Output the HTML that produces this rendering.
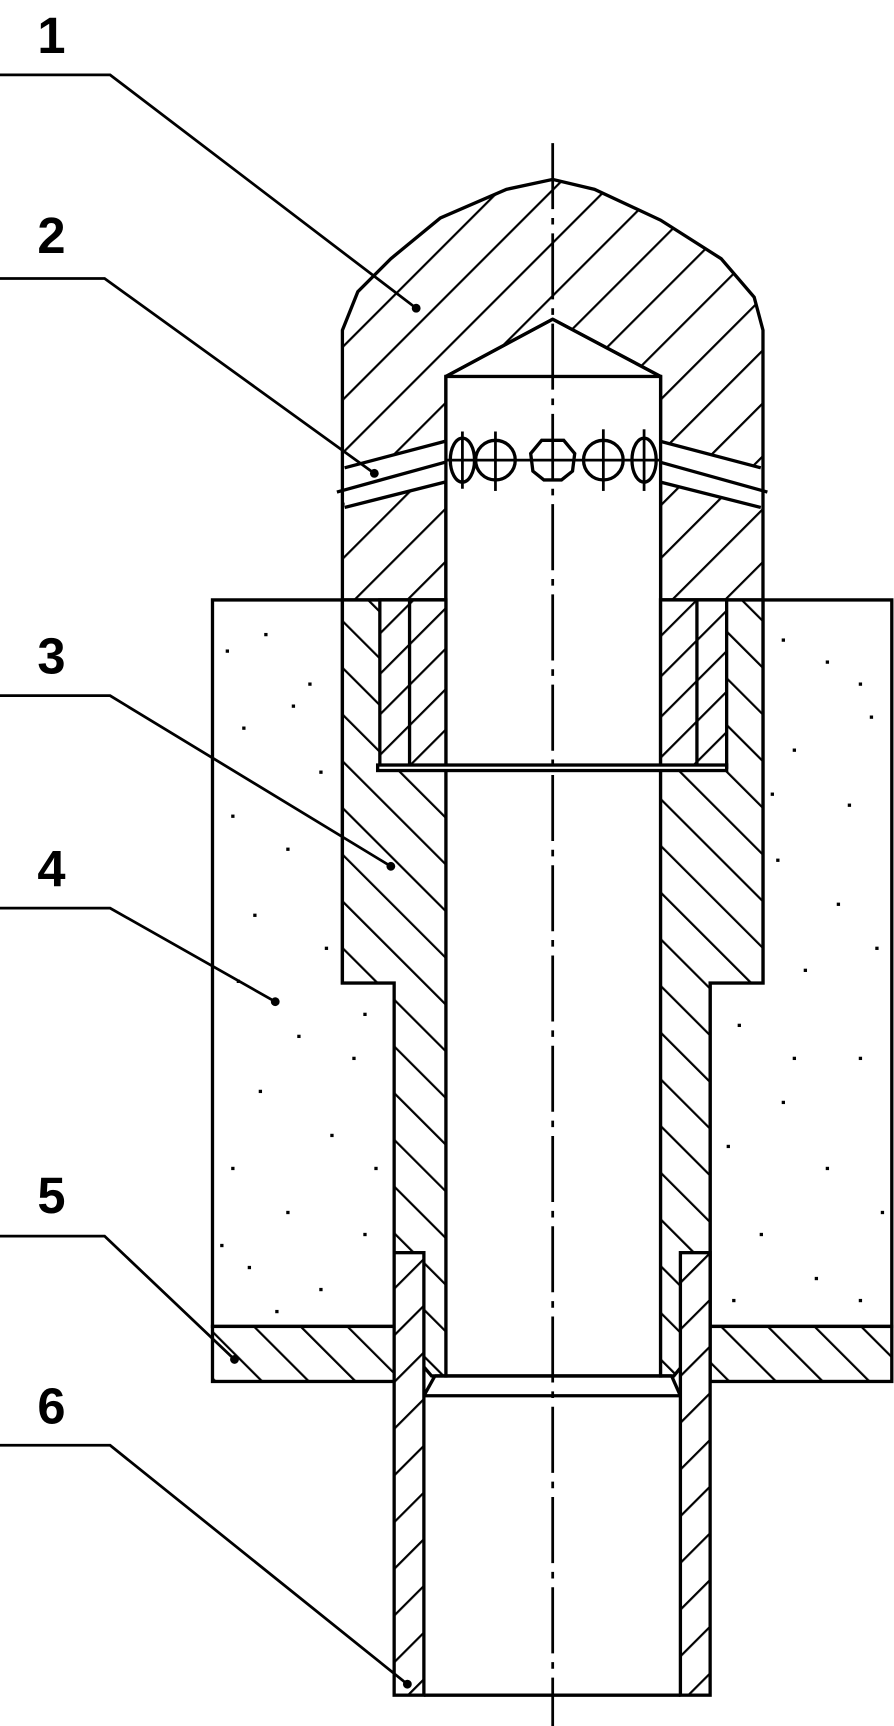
<!DOCTYPE html>
<html><head><meta charset="utf-8"><style>html,body{margin:0;padding:0;background:#fff}svg{display:block}</style></head><body>
<svg width="894" height="1726" viewBox="0 0 812 1568" preserveAspectRatio="none" xmlns="http://www.w3.org/2000/svg">
<defs>
<pattern id="hA" patternUnits="userSpaceOnUse" width="34" height="34" patternTransform="rotate(45)"><rect width="34" height="34" fill="#fff"/><line x1="0" y1="0" x2="0" y2="34" stroke="#000" stroke-width="4"/></pattern>
<pattern id="hB" patternUnits="userSpaceOnUse" width="30" height="30" patternTransform="rotate(-45)"><rect width="30" height="30" fill="#fff"/><line x1="0" y1="0" x2="0" y2="30" stroke="#000" stroke-width="4"/></pattern>
<pattern id="hD" patternUnits="userSpaceOnUse" width="26" height="26" patternTransform="rotate(45)"><rect width="26" height="26" fill="#fff"/><line x1="0" y1="0" x2="0" y2="26" stroke="#000" stroke-width="4"/></pattern>
<pattern id="hC" patternUnits="userSpaceOnUse" width="30" height="30" patternTransform="rotate(45)"><rect width="30" height="30" fill="#fff"/><line x1="0" y1="0" x2="0" y2="30" stroke="#000" stroke-width="4"/></pattern>
</defs>
<g stroke="#000" stroke-width="3" fill="none">
<!-- insulation blocks -->
<path d="M193,545 L311,545 L311,893 L358,893 L358,1205 L193,1205 Z" fill="#fff"/>
<path d="M810,545 L693,545 L693,893 L645,893 L645,1205 L810,1205 Z" fill="#fff"/>
<!-- part 1 cap -->
<path d="M311,545 L311,300 L325,265 L355,235 L400,198 L460,172 L502,163 L540,172 L600,200 L655,235 L685,270 L693,300 L693,545 L600,545 L600,342 L502,290 L405,342 L405,545 Z" fill="url(#hA)"/>
<!-- channels -->
<polygon points="313,425 404,401 404,438 313,461" fill="#fff" stroke="none"/>
<polygon points="600,401 691,425 691,461 600,438" fill="#fff" stroke="none"/>
<line x1="313" y1="425" x2="404" y2="401"/><line x1="306" y1="447" x2="404" y2="420"/><line x1="313" y1="461" x2="404" y2="438"/>
<line x1="600" y1="401" x2="691" y2="425"/><line x1="600" y1="420" x2="697" y2="447"/><line x1="600" y1="438" x2="691" y2="461"/>
<!-- bore -->
<rect x="405" y="342" width="195" height="908" fill="#fff"/>
<line x1="405" y1="342" x2="502" y2="290"/><line x1="600" y1="342" x2="502" y2="290"/>
<!-- part 3 sleeve -->
<path d="M311,545 L405,545 L405,1250 L392,1250 L358,1210 L358,893 L311,893 Z" fill="url(#hB)"/>
<path d="M693,545 L600,545 L600,1250 L612,1250 L645,1210 L645,893 L693,893 Z" fill="url(#hB)"/>
<!-- inserts -->
<rect x="345" y="545" width="60" height="152" fill="url(#hD)"/>
<rect x="600" y="545" width="60" height="152" fill="url(#hD)"/>
<line x1="372" y1="545" x2="372" y2="697"/><line x1="633" y1="545" x2="633" y2="697"/>
<rect x="343" y="695" width="317" height="5" fill="#fff"/>
<line x1="395" y1="1250" x2="610" y2="1250"/><line x1="385" y1="1268" x2="618" y2="1268"/>
<line x1="395" y1="1250" x2="385" y2="1268"/><line x1="610" y1="1250" x2="618" y2="1268"/>
<!-- plate 5 -->
<rect x="193" y="1205" width="165" height="50" fill="url(#hB)"/>
<rect x="645" y="1205" width="165" height="50" fill="url(#hB)"/>
<!-- tube 6 -->
<rect x="358" y="1138" width="27" height="402" fill="url(#hC)"/>
<rect x="618" y="1138" width="27" height="402" fill="url(#hC)"/>
<line x1="385" y1="1540" x2="618" y2="1540"/>
<!-- leaders -->
<g stroke-width="2.5"><polyline points="0,68 100,68 378,280"/><polyline points="0,253 95,253 340,430"/><polyline points="0,632 100,632 355,787"/><polyline points="0,825 100,825 250,910"/><polyline points="0,1123 95,1123 213,1235"/><polyline points="0,1313 100,1313 370,1530"/></g>
<!-- holes -->
<line x1="405" y1="418" x2="600" y2="418" stroke-width="2.5"/>
<ellipse cx="420" cy="418" rx="11" ry="20"/><circle cx="450" cy="418" r="18"/><polygon points="492,400 512,400 522,412 520,428 510,436 494,436 484,428 482,412"/><circle cx="548" cy="418" r="18"/><ellipse cx="585" cy="418" rx="11" ry="20"/>
<g stroke-width="2.5"><line x1="420" y1="392" x2="420" y2="444"/><line x1="450" y1="392" x2="450" y2="446"/><line x1="548" y1="390" x2="548" y2="446"/><line x1="585" y1="390" x2="585" y2="446"/></g>
<!-- centerline -->
<line x1="502" y1="130" x2="502" y2="1568" stroke-width="2.5" stroke-dasharray="60,8,6,8"/>
</g>
<g fill="#000">
<circle cx="378" cy="280" r="4"/><circle cx="340" cy="430" r="4"/><circle cx="355" cy="787" r="4"/><circle cx="250" cy="910" r="4"/><circle cx="213" cy="1235" r="4"/><circle cx="370" cy="1530" r="4"/>
<g>
<rect x="205" y="590" width="3" height="3"/><rect x="240" y="575" width="3" height="3"/><rect x="280" y="620" width="3" height="3"/><rect x="220" y="660" width="3" height="3"/><rect x="290" y="700" width="3" height="3"/><rect x="210" y="740" width="3" height="3"/><rect x="260" y="770" width="3" height="3"/><rect x="230" y="830" width="3" height="3"/><rect x="295" y="860" width="3" height="3"/><rect x="215" y="890" width="3" height="3"/><rect x="270" y="940" width="3" height="3"/><rect x="320" y="960" width="3" height="3"/><rect x="235" y="990" width="3" height="3"/><rect x="300" y="1030" width="3" height="3"/><rect x="210" y="1060" width="3" height="3"/><rect x="260" y="1100" width="3" height="3"/><rect x="330" y="1120" width="3" height="3"/><rect x="225" y="1150" width="3" height="3"/><rect x="290" y="1170" width="3" height="3"/><rect x="250" y="1190" width="3" height="3"/><rect x="340" y="1060" width="3" height="3"/><rect x="330" y="920" width="3" height="3"/><rect x="265" y="640" width="3" height="3"/><rect x="200" y="1130" width="3" height="3"/>
<rect x="710" y="580" width="3" height="3"/><rect x="750" y="600" width="3" height="3"/><rect x="790" y="650" width="3" height="3"/><rect x="720" y="680" width="3" height="3"/><rect x="770" y="730" width="3" height="3"/><rect x="705" y="780" width="3" height="3"/><rect x="760" y="820" width="3" height="3"/><rect x="795" y="860" width="3" height="3"/><rect x="730" y="880" width="3" height="3"/><rect x="670" y="930" width="3" height="3"/><rect x="780" y="960" width="3" height="3"/><rect x="710" y="1000" width="3" height="3"/><rect x="660" y="1040" width="3" height="3"/><rect x="750" y="1060" width="3" height="3"/><rect x="800" y="1100" width="3" height="3"/><rect x="690" y="1120" width="3" height="3"/><rect x="740" y="1160" width="3" height="3"/><rect x="780" y="1180" width="3" height="3"/><rect x="665" y="1180" width="3" height="3"/><rect x="720" y="960" width="3" height="3"/><rect x="780" y="620" width="3" height="3"/><rect x="700" y="720" width="3" height="3"/>
</g>
</g>
<g font-family="Liberation Sans, sans-serif" font-weight="bold" font-size="46" fill="#000">
<text x="34" y="48">1</text><text x="34" y="230">2</text><text x="34" y="612">3</text><text x="34" y="805">4</text><text x="34" y="1102">5</text><text x="34" y="1293">6</text>
</g>
</svg>
</body></html>
